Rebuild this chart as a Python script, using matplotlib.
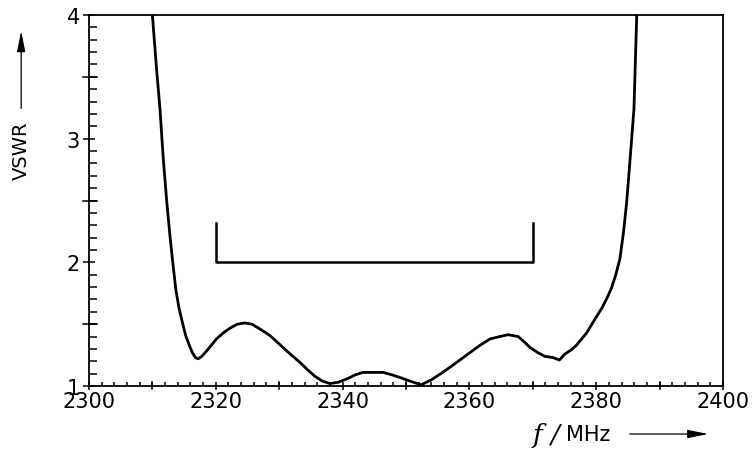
import matplotlib.pyplot as plt
from matplotlib.ticker import MultipleLocator

# VSWR-Messkurve
freq = [2310.0, 2310.6, 2311.2, 2311.7, 2312.25, 2312.8, 2313.3, 2313.7, 2314.2,
        2314.8, 2315.3, 2315.9, 2316.4, 2316.8, 2317.2, 2317.8, 2318.5, 2319.3,
        2320.1, 2321.2, 2322.3, 2323.4, 2324.6, 2325.7, 2327.0, 2328.5, 2330.0,
        2331.7, 2333.3, 2334.5, 2335.6, 2336.8, 2338.0, 2339.3, 2340.8, 2342.0,
        2343.2, 2344.8, 2346.4, 2347.8, 2349.0, 2350.6, 2352.4, 2354.0, 2355.5,
        2356.9, 2358.5, 2360.1, 2361.7, 2363.25, 2364.8, 2366.1, 2367.7, 2368.6,
        2369.6, 2370.8, 2371.9, 2373.2, 2374.2, 2375.1, 2376.0, 2376.9, 2377.7,
        2378.5, 2379.8, 2380.9, 2381.7, 2382.4, 2383.1, 2383.75, 2384.3, 2384.8,
        2385.3, 2385.96, 2386.4]
vswr = [4.0, 3.6, 3.24, 2.85, 2.5, 2.2, 1.96, 1.78, 1.63,
        1.50, 1.40, 1.32, 1.26, 1.23, 1.22, 1.24, 1.28, 1.33,
        1.38, 1.43, 1.47, 1.50, 1.51, 1.50, 1.46, 1.41, 1.34,
        1.26, 1.19, 1.13, 1.08, 1.04, 1.02, 1.03, 1.06, 1.09,
        1.11, 1.11, 1.11, 1.09, 1.07, 1.04, 1.01, 1.05, 1.10,
        1.15, 1.21, 1.27, 1.33, 1.38, 1.40, 1.415, 1.40, 1.36,
        1.31, 1.27, 1.24, 1.23, 1.21, 1.26, 1.29, 1.33, 1.38,
        1.43, 1.54, 1.63, 1.71, 1.79, 1.90, 2.03, 2.24, 2.48,
        2.80, 3.24, 4.0]

# Spezifikation: VSWR <= 2 von 2320 bis 2370 MHz
spec_f = [2320, 2320, 2370, 2370]
spec_v = [2.32, 2.0, 2.0, 2.32]

fig = plt.figure(figsize=(7.56, 4.56), dpi=100)
ax = fig.add_axes([0.1177, 0.1513, 0.8386, 0.8136])

ax.plot(freq, vswr, color='black', lw=2.0, solid_joinstyle='round')
ax.plot(spec_f, spec_v, color='black', lw=1.8)

ax.set_xlim(2300, 2400)
ax.set_ylim(1, 4)

ax.xaxis.set_major_locator(MultipleLocator(20))
ax.xaxis.set_minor_locator(MultipleLocator(2))
ax.yaxis.set_major_locator(MultipleLocator(1))
ax.yaxis.set_minor_locator(MultipleLocator(0.1))

for s in ax.spines.values():
    s.set_linewidth(1.3)

ax.tick_params(axis='both', which='both', top=False, right=False, width=1.1)
ax.tick_params(axis='x', which='major', direction='inout', length=5.5, labelsize=15, pad=1)
ax.tick_params(axis='x', which='minor', direction='in', length=3)
ax.tick_params(axis='y', which='major', direction='inout', length=9, labelsize=15, pad=2)
ax.tick_params(axis='y', which='minor', direction='in', length=5.5)

# Zwischenmarken bei 10 MHz und 0.5 etwas länger
for xv in range(2310, 2400, 20):
    ax.plot([xv, xv], [-0.008, 0.011], transform=ax.get_xaxis_transform(),
            color='black', lw=1.1, clip_on=False)
for yv in [1.5, 2.5, 3.5]:
    ax.plot([-0.009, 0.013], [yv, yv], transform=ax.get_yaxis_transform(),
            color='black', lw=1.1, clip_on=False)

pfeil = dict(arrowstyle='-|>,head_length=0.9,head_width=0.18', color='black',
             lw=0.9, mutation_scale=14, shrinkA=0, shrinkB=0)

# Achsenbeschriftungen mit Pfeilen
fig.text(0.028, 0.67, 'VSWR', rotation=90, fontsize=14, ha='center', va='center')
ax.annotate('', xy=(0.028, 0.93), xycoords='figure fraction',
            xytext=(0.028, 0.76), textcoords='figure fraction', arrowprops=pfeil)

fig.text(0.705, 0.046, 'f', fontsize=19, ha='left', va='center',
         family='DejaVu Serif', style='italic')
fig.text(0.728, 0.046, '/', fontsize=19, ha='left', va='center',
         family='DejaVu Serif', style='italic')
fig.text(0.749, 0.046, 'MHz', fontsize=15, ha='left', va='center')
ax.annotate('', xy=(0.937, 0.046), xycoords='figure fraction',
            xytext=(0.833, 0.046), textcoords='figure fraction', arrowprops=pfeil)

fig.savefig('out.png', dpi=100)
